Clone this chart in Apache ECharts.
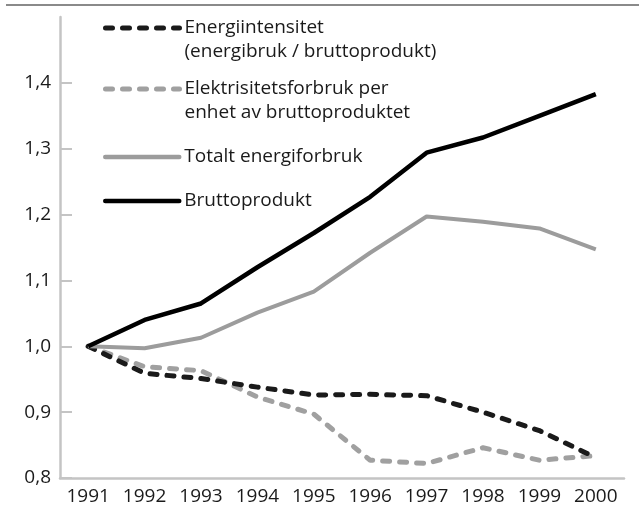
<!DOCTYPE html>
<html style="height: 100%">
   <head>
       <meta charset="utf-8">
   </head>
   <body style="height: 100%; margin: 0; background: #fff">
       <div id="container" style="height: 100%"></div>
       <script type="text/javascript" src="https://cdn.jsdelivr.net/npm/echarts@6/dist/echarts.min.js"></script>
       <script type="text/javascript">
var years = ['1991','1992','1993','1994','1995','1996','1997','1998','1999','2000'];
var yTicks = [0.8, 0.9, 1.0, 1.1, 1.2, 1.3, 1.4];
var name1 = 'Energiintensitet\n(energibruk / bruttoprodukt)';
var name2 = 'Elektrisitetsforbruk per\nenhet av bruttoproduktet';
var name3 = 'Totalt energiforbruk';
var name4 = 'Bruttoprodukt';
var energiintensitet = [1.0, 0.959, 0.951, 0.938, 0.926, 0.927, 0.925, 0.900, 0.872, 0.831];
var elektrisitet     = [1.0, 0.969, 0.963, 0.923, 0.897, 0.827, 0.822, 0.846, 0.827, 0.834];
var totalt           = [1.0, 0.997, 1.013, 1.051, 1.083, 1.142, 1.197, 1.189, 1.179, 1.147];
var brutto           = [1.0, 1.040, 1.065, 1.120, 1.172, 1.227, 1.294, 1.317, 1.350, 1.383];

var font = '"Open Sans", sans-serif';
var dom = document.getElementById("container");
var myChart = echarts.init(dom);

// one legend per item; two-line names get an empty first row so the icon sits on the first text row
function legendFor(name, top, pad, twoLines, line) {
    return {
        data: [name],
        orient: 'vertical',
        left: 103,
        top: top,
        padding: [pad, 0, 0, 0],
        itemWidth: 74,
        itemHeight: 14,
        selectedMode: false,
        formatter: function (n) { return twoLines ? '\n' + n : n; },
        itemStyle: { color: 'rgba(0,0,0,0)', borderWidth: 0 },
        lineStyle: line,
        textStyle: { fontFamily: font, fontSize: 19, lineHeight: 24, color: '#1a1a1a' }
    };
}

var option = {
    animation: false,
    textStyle: { fontFamily: font },
    graphic: [{
        type: 'rect',
        z: 100,
        shape: { x: 6, y: 4, width: 633, height: 2 },
        style: { fill: '#8a8a8a' }
    }],
    legend: [
        legendFor(name1, 0, -8, true, { color: '#1a1a1a', width: 5, type: [7, 10], cap: 'round' }),
        legendFor(name2, 53, 0, true, { color: '#a0a0a0', width: 5, type: [7, 10], cap: 'round' }),
        legendFor(name3, 145, 0, false, { color: '#9c9c9c', width: 4.5, type: 'solid', cap: 'round' }),
        legendFor(name4, 189, 0, false, { color: '#000', width: 4.5, type: 'solid', cap: 'round' })
    ],
    grid: { left: 60, right: 15, top: 17, bottom: 39 },
    xAxis: {
        type: 'category',
        data: years,
        boundaryGap: true,
        axisLine: { lineStyle: { color: '#c4c4c4', width: 2.5 } },
        axisTick: { inside: true, length: 11, alignWithLabel: true, interval: 0, lineStyle: { color: '#c4c4c4', width: 2 } },
        axisLabel: { fontFamily: font, fontSize: 19, color: '#1a1a1a', margin: 9, interval: 0 }
    },
    yAxis: {
        type: 'value',
        min: 0.8,
        max: 1.5,
        interval: 0.1,
        splitLine: { show: false },
        axisLine: { show: true, lineStyle: { color: '#c4c4c4', width: 2.5 } },
        axisTick: { show: true, inside: true, length: 12, customValues: yTicks, lineStyle: { color: '#c4c4c4', width: 2 } },
        axisLabel: {
            fontFamily: font, fontSize: 19, color: '#1a1a1a', margin: 9,
            customValues: yTicks,
            formatter: function (v) { return v.toFixed(1).replace('.', ','); }
        }
    },
    series: [
        {
            name: name2, type: 'line', data: elektrisitet, symbol: 'none', z: 2,
            lineStyle: { color: '#a0a0a0', width: 5, type: [7, 10], cap: 'round' },
            itemStyle: { color: '#a0a0a0' }
        },
        {
            name: name1, type: 'line', data: energiintensitet, symbol: 'none', z: 3,
            lineStyle: { color: '#1a1a1a', width: 5, type: [7, 10], cap: 'round' },
            itemStyle: { color: '#1a1a1a' }
        },
        {
            name: name3, type: 'line', data: totalt, symbol: 'none', z: 4,
            lineStyle: { color: '#9c9c9c', width: 4 },
            itemStyle: { color: '#9c9c9c' }
        },
        {
            name: name4, type: 'line', data: brutto, symbol: 'none', z: 5,
            lineStyle: { color: '#000', width: 4.5 },
            itemStyle: { color: '#000' }
        }
    ]
};

myChart.setOption(option, true);
       </script>
   </body>
</html>
